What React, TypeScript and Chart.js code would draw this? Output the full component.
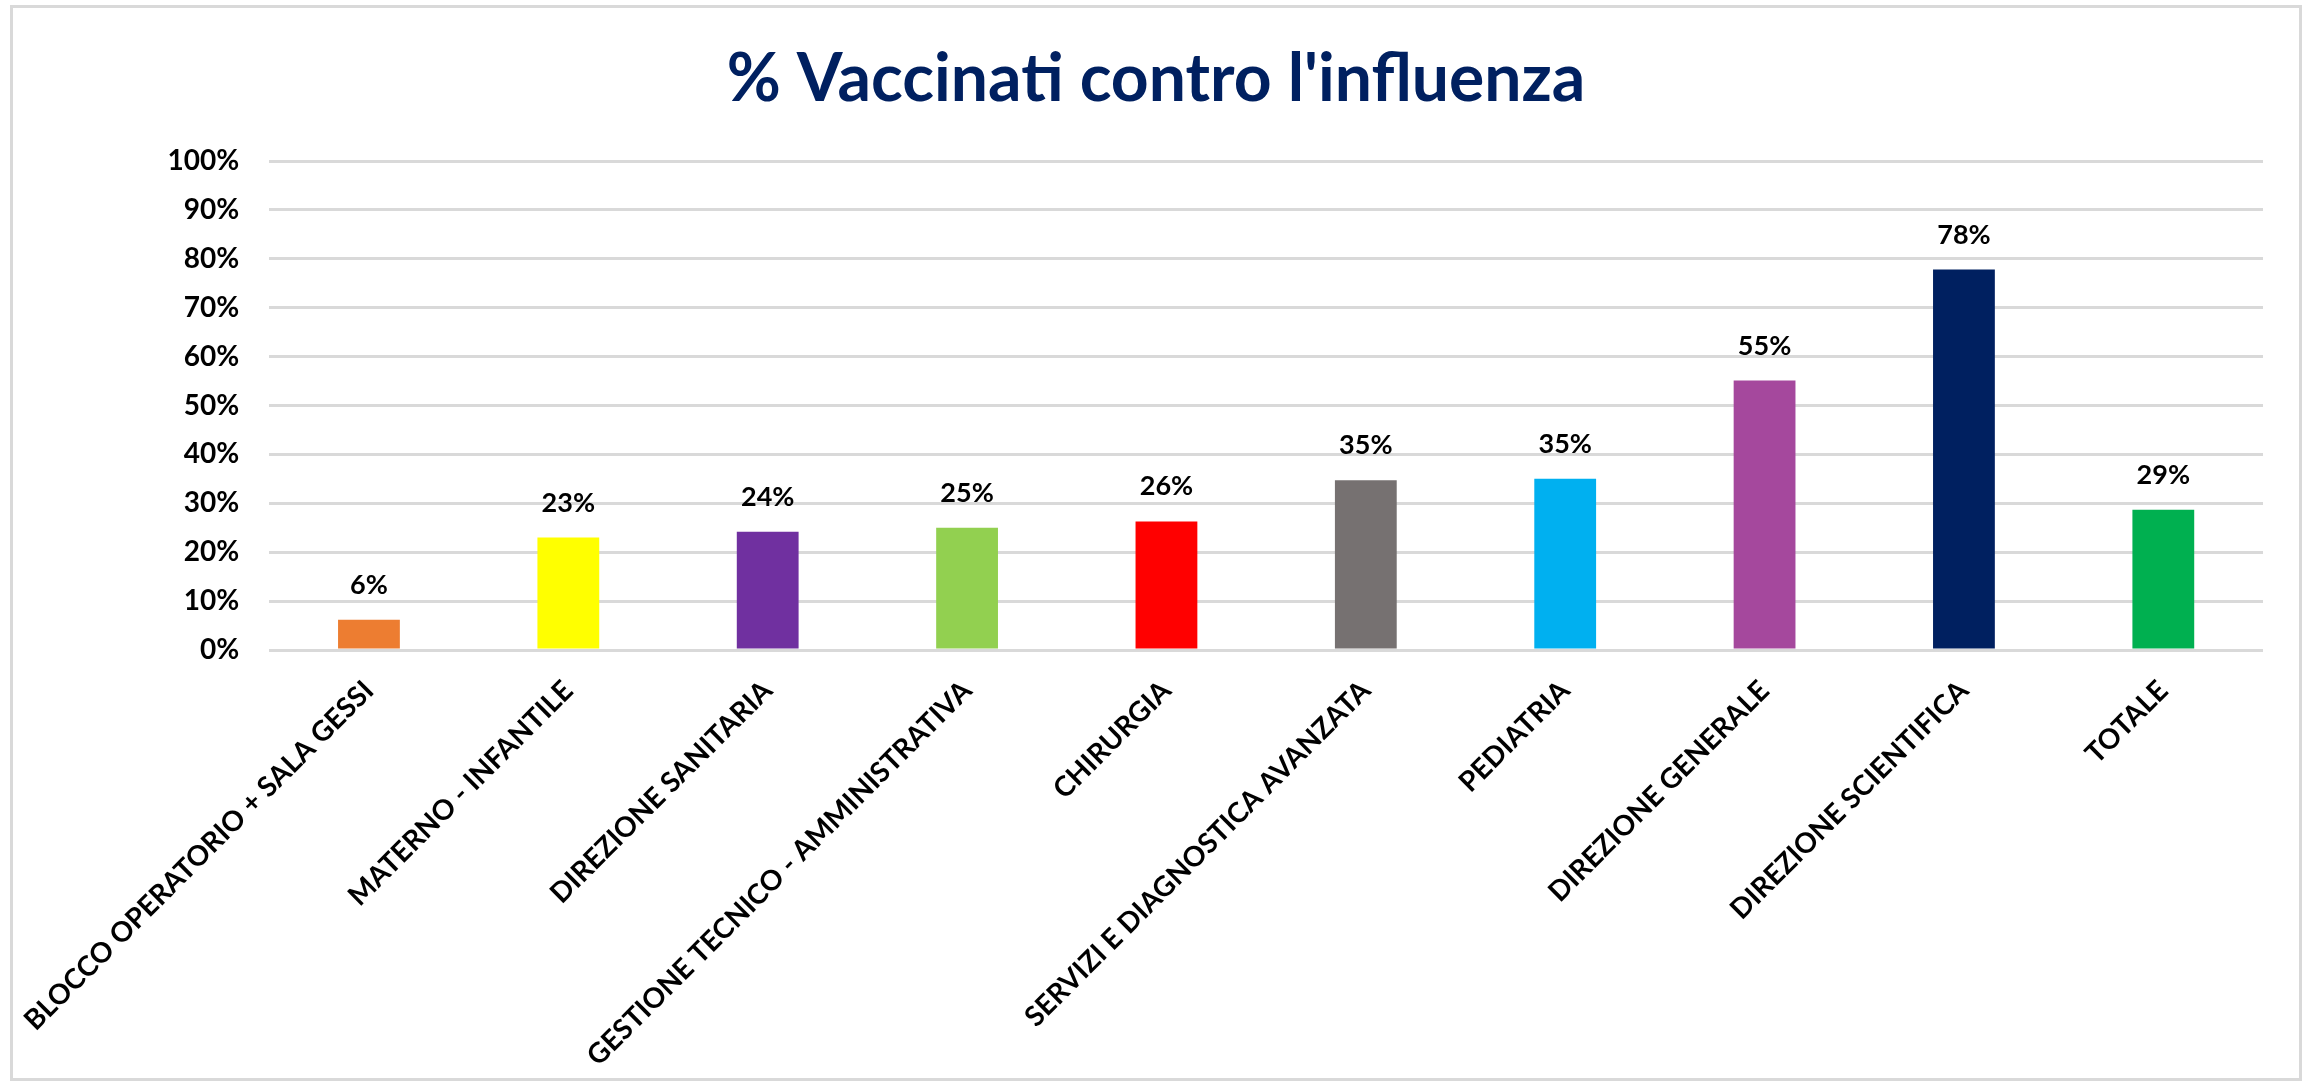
import React, { useEffect, useRef } from "react";
import { Chart, registerables } from "chart.js";

Chart.register(...registerables);

const title = "% Vaccinati contro l'influenza";

const categories = [
  "BLOCCO OPERATORIO + SALA GESSI",
  "MATERNO - INFANTILE",
  "DIREZIONE SANITARIA",
  "GESTIONE TECNICO - AMMINISTRATIVA",
  "CHIRURGIA",
  "SERVIZI E DIAGNOSTICA AVANZATA",
  "PEDIATRIA",
  "DIREZIONE GENERALE",
  "DIREZIONE SCIENTIFICA",
  "TOTALE",
];

const values = [0.062, 0.23, 0.242, 0.25, 0.263, 0.347, 0.35, 0.551, 0.778, 0.287];

const barColors = [
  "#ED7D31",
  "#FFFF00",
  "#7030A0",
  "#92D050",
  "#FF0000",
  "#767171",
  "#00B0F0",
  "#A5489D",
  "#002060",
  "#00B050",
];

const yMin = 0;
const yMax = 1;
const yStep = 0.1;

const FONT = "Lato, 'Open Sans', 'DejaVu Sans', sans-serif";
const pct = (v: number) => Math.round(v * 100) + "%";

const overlayPlugin = {
  id: "overlay",
  afterDatasetsDraw(chart: any) {
    const ctx = chart.ctx;
    const meta = chart.getDatasetMeta(0);
    ctx.save();
    ctx.font = `bold 27px ${FONT}`;
    ctx.fillStyle = "#000000";
    ctx.textAlign = "center";
    ctx.textBaseline = "alphabetic";
    meta.data.forEach((bar: any, i: number) => {
      ctx.fillText(pct(values[i]), bar.x, bar.y - 26);
    });
    ctx.restore();
  },
  afterDraw(chart: any) {
    const ctx = chart.ctx;
    ctx.save();
    ctx.font = `bold 66px ${FONT}`;
    ctx.fillStyle = "#002060";
    ctx.textAlign = "center";
    ctx.textBaseline = "alphabetic";
    ctx.fillText(title, 1156, 101);
    ctx.restore();
  },
};

export default function App() {
  const ref = useRef<HTMLCanvasElement | null>(null);

  useEffect(() => {
    if (!ref.current) return;
    const chart = new Chart(ref.current, {
      type: "bar",
      data: {
        labels: categories,
        datasets: [
          {
            data: values,
            backgroundColor: barColors,
            borderWidth: 0,
            barPercentage: 0.31,
            categoryPercentage: 1,
          },
        ],
      },
      options: {
        responsive: false,
        animation: false,
        layout: { padding: { top: 161, right: 50, left: 0, bottom: 0 } },
        plugins: {
          legend: { display: false },
          title: { display: false },
          tooltip: { enabled: false },
        },
        scales: {
          x: {
            grid: { display: false },
            border: { display: false },
            ticks: {
              autoSkip: false,
              minRotation: 45,
              maxRotation: 45,
              padding: 16,
              color: "#000000",
              font: { family: FONT, size: 28, weight: "bold" },
            },
            afterFit: (s: any) => {
              s.height = 435;
            },
          },
          y: {
            min: yMin,
            max: yMax,
            grid: { color: "#D9D9D9", lineWidth: 3, drawTicks: false },
            border: { display: false },
            ticks: {
              stepSize: yStep,
              padding: 30,
              color: "#000000",
              font: { family: FONT, size: 28, weight: "bold" },
              callback: (v: any) => pct(Number(v)),
            },
            afterFit: (s: any) => {
              s.width = 268;
            },
          },
        },
      },
      plugins: [overlayPlugin],
    });
    return () => chart.destroy();
  }, []);

  return (
    <div
      style={{
        position: "absolute",
        left: 0,
        top: 0,
        width: 2313,
        height: 1085,
        background: "#ffffff",
      }}
    >
      <canvas
        ref={ref}
        width={2313}
        height={1085}
        style={{ position: "absolute", left: 0, top: 0, width: 2313, height: 1085 }}
      />
      <div
        style={{
          position: "absolute",
          left: 10,
          top: 5,
          width: 2292,
          height: 1076,
          border: "3px solid #D9D9D9",
          boxSizing: "border-box",
          pointerEvents: "none",
        }}
      />
    </div>
  );
}
